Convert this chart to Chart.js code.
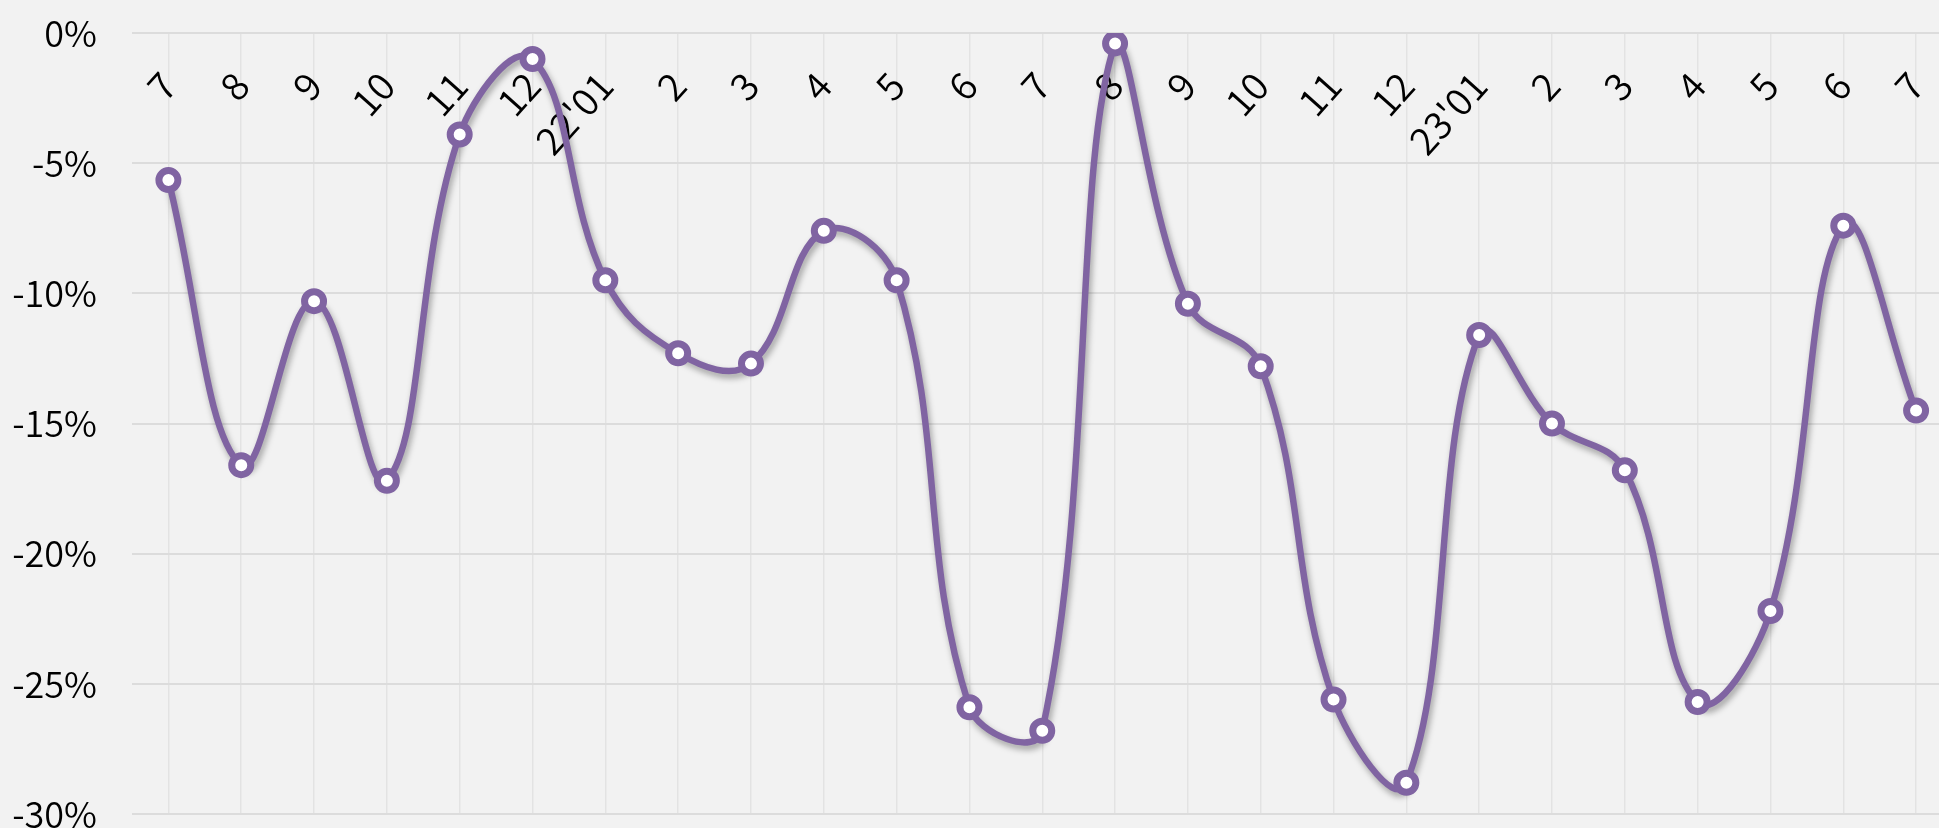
<!DOCTYPE html>
<html>
<head>
<meta charset="utf-8">
<script src="https://cdn.jsdelivr.net/npm/chart.js@4"></script>
<style>
    html, body { margin: 0; padding: 0; background: #f2f2f2; overflow: hidden; }
    #wrap { width: 1969px; height: 840px; position: relative; }
</style>
</head>
<body>
<div id="wrap"><canvas id="grafico"></canvas></div>
<script>
// months from 21'07 to 23'07
const meses = ["7", "8", "9", "10", "11", "12", "22'01", "2", "3", "4", "5", "6",
    "7", "8", "9", "10", "11", "12", "23'01", "2", "3", "4", "5", "6", "7"];

// return (%)
const valores = [-5.65, -16.6, -10.3, -17.2, -3.9, -1.0, -9.5, -12.3, -12.7, -7.6, -9.5, -25.9,
    -26.8, -0.4, -10.4, -12.8, -25.6, -28.8, -11.6, -15.0, -16.8, -25.7, -22.2, -7.4, -14.5];

const yTicks = [0, -5, -10, -15, -20, -25, -30];

const fonte = "'Noto Sans CJK KR', 'Noto Sans', sans-serif";
const roxo = "#8064a2";

// drop shadow only under the line, not inside the markers
const sombra = {
    id: "sombra",
    beforeDatasetDraw(chart, args) {
        if (args.meta.label !== "linha") return;
        const ctx = chart.ctx;
        ctx.save();
        ctx.shadowColor = "rgba(0,0,0,0.35)";
        ctx.shadowBlur = 6;
        ctx.shadowOffsetX = 2;
        ctx.shadowOffsetY = 4;
    },
    afterDatasetDraw(chart, args) {
        if (args.meta.label !== "linha") return;
        chart.ctx.restore();
    }
};

const ctx = document.getElementById("grafico").getContext("2d");

new Chart(ctx, {
    type: "line",
    data: {
        labels: meses,
        datasets: [
            {
                label: "pontos",
                data: valores,
                showLine: false,
                pointRadius: 9.5,
                pointBorderWidth: 7,
                pointBackgroundColor: "#ffffff",
                pointBorderColor: roxo
            },
            {
                label: "linha",
                data: valores,
                borderColor: roxo,
                borderWidth: 6.5,
                tension: 0.4,
                pointRadius: 0
            }
        ]
    },
    options: {
        responsive: true,
        maintainAspectRatio: false,
        animation: false,
        layout: { padding: { top: 33, bottom: 26, left: 0, right: 0 } },
        plugins: {
            legend: { display: false },
            tooltip: { enabled: false }
        },
        scales: {
            x: {
                position: { y: 0 },
                offset: true,
                afterFit: s => { s.paddingLeft = 0; s.paddingRight = 0; },
                grid: { color: "#e3e3e3", lineWidth: 1.5, drawTicks: false, offset: false },
                border: { display: false },
                ticks: {
                    autoSkip: false,
                    minRotation: 48,
                    maxRotation: 48,
                    padding: 30,
                    color: "#000",
                    font: { family: fonte, size: 38, weight: 350 }
                }
            },
            y: {
                min: -30,
                max: 0,
                afterFit: s => { s.width = 132; s.paddingTop = 0; s.paddingBottom = 0; },
                afterBuildTicks: s => { s.ticks = yTicks.map(v => ({ value: v })); },
                grid: { color: "#dcdcdc", lineWidth: 2, drawTicks: false },
                border: { display: false },
                ticks: {
                    padding: 35,
                    color: "#000",
                    font: { family: fonte, size: 36, weight: 350 },
                    callback: v => v + "%"
                }
            }
        }
    },
    plugins: [sombra]
});
</script>
</body>
</html>
